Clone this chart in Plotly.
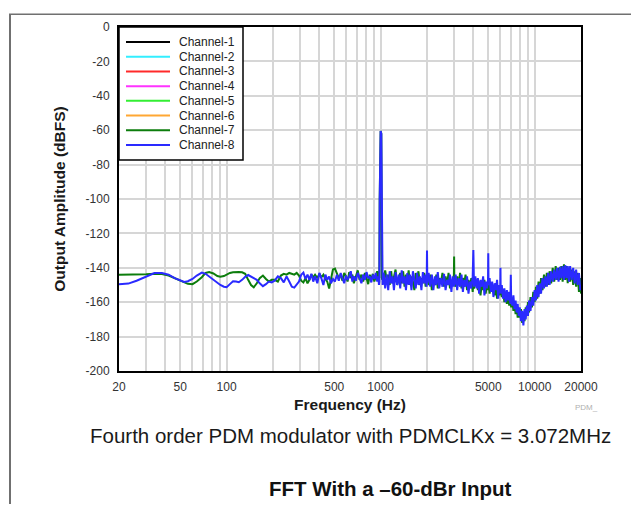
import math
import plotly.graph_objects as go

# ---------------- data ----------------
# Frequency axis (Hz), split in bands
freq_low = [20, 23, 26, 30, 34, 38, 42, 46, 50, 53, 56, 60, 64, 69, 73, 77, 82, 87, 91, 96,
            100, 105, 110, 115, 120, 126, 132, 138, 144, 150, 157, 164, 172, 180, 188, 196]
ch7_low = [-144, -144, -144, -143.8, -143.5, -143.6, -144.5, -146, -147.5, -148.5, -149.3, -149.5,
           -148, -145.5, -143, -142.5, -143.3, -144.8, -145.2, -144.8, -143.8, -143, -142.6, -142.4,
           -142.4, -142.6, -143.5, -147, -150, -151.3, -149, -146, -144.5, -146.5, -148, -147]
ch8_low = [-149.5, -149.2, -147.5, -145, -143, -143, -144, -146, -147.5, -148.2, -147.8, -146.5,
           -144.5, -142.8, -143.5, -145, -147, -148.8, -150, -151, -151.3, -149.5, -147.8, -148,
           -148.4, -147, -145.2, -144.2, -145, -146, -147, -149, -150.7, -149.5, -148, -148.5]

freq_mid = [205, 215, 225, 235, 245, 255, 265, 275, 285, 295, 305, 315, 325, 335, 345, 355, 365,
            375, 388, 400, 412, 425, 438, 450, 463, 476, 490, 505, 520, 535, 550, 565, 580, 595,
            610, 625, 640, 655, 670, 690, 710, 730, 750, 770, 790, 810, 830, 850, 870, 890, 910,
            930, 950, 965, 975]
ch7_mid = [-147, -148, -144.5, -143.5, -144, -143, -143.5, -144, -143, -144.5, -147.5, -148.5, -146,
           -149, -147, -144, -145.5, -144, -146, -143.5, -145.5, -144, -146.5, -148, -152, -147,
           -141, -140.5, -143, -146, -144, -147.5, -143, -145, -148, -142.5, -146, -144, -149, -145,
           -141.5, -147, -144, -148, -143, -146, -149.5, -144, -147, -143.5, -148, -145, -142, -147,
           -145]
ch8_mid = [-147.5, -145, -146, -148.5, -145, -148, -151, -151.5, -150, -148, -144, -142.8, -146.5,
           -144, -147, -143.5, -148, -145, -149, -143, -146, -150, -144, -147, -145, -149, -146.5,
           -148, -144, -147.5, -143, -146, -149, -144.5, -147, -145, -142, -148, -145, -147.5, -143,
           -146, -149, -144, -147, -142.5, -146, -145, -148.5, -144, -146.5, -143, -148, -145, -150]

freq_tone = [981, 986, 991, 1000, 1010, 1015, 1021]
ch7_tone = [-146, -100, -62, -60.5, -62, -100, -147]
ch8_tone = [-148, -100, -62, -60.5, -62, -100, -146]

freq_b1 = [1030, 1045, 1070, 1095, 1120, 1145, 1170, 1195, 1220, 1250, 1280, 1310, 1340, 1370,
           1400, 1430, 1460, 1490, 1520, 1550, 1585, 1620, 1655, 1690, 1725, 1760, 1800, 1840,
           1880, 1920, 1960, 1990, 2000]
ch7_b1 = [-143, -148, -141.5, -147, -144, -150, -142, -149, -145, -141, -150, -146, -143, -149,
          -142, -151, -144, -148, -141.5, -150, -145, -148, -153, -143, -147, -142, -150, -146,
          -149, -143, -151, -146, -147]
ch8_b1 = [-150, -143, -152, -144, -153, -142, -149, -145, -153, -142.5, -150, -144, -152, -141.5,
          -149, -145, -153, -143, -150, -144, -153, -142, -148, -152, -143, -150, -145, -153,
          -142.5, -149, -144, -151, -130]

freq_b2 = [2010, 2050, 2100, 2150, 2200, 2250, 2300, 2350, 2400, 2460, 2520, 2580, 2640, 2700,
           2760, 2820, 2880, 2940, 2990, 3000, 3010, 3070, 3140, 3210, 3280, 3350, 3420, 3490,
           3560, 3640, 3720, 3800, 3880, 3960, 4000, 4040]
ch7_b2 = [-145, -150, -144, -153, -147, -150, -144, -152, -146, -149, -143, -151, -145, -150, -143,
          -152, -147, -150, -144, -133.5, -148, -151, -145, -150, -143, -152, -146, -149, -144,
          -153, -147, -151, -146, -154, -148, -152]
ch8_b2 = [-149, -143, -151, -144, -153, -145, -150, -142.5, -152, -146, -151, -143.5, -153, -147,
          -150, -144, -154, -145, -151, -147, -150, -144, -153, -146, -151, -144, -154, -147, -151,
          -145, -155, -148, -152, -145, -129.7, -151]

freq_b3 = [4120, 4200, 4280, 4360, 4450, 4540, 4630, 4720, 4810, 4900, 4980, 5000, 5020, 5100,
           5200, 5300, 5400, 5500, 5600, 5700, 5800, 5900, 5980, 6000, 6020, 6120, 6240, 6360,
           6480, 6600, 6720, 6840, 6960, 7000, 7040, 7160, 7280, 7400, 7520, 7640, 7760, 7880]
ch7_b3 = [-150, -147, -153, -148, -156, -149, -153, -147, -155, -149, -153, -150, -147, -155, -149,
          -153, -150, -156, -150, -158, -152, -156, -151, -154, -152, -157, -153, -160, -155, -161,
          -156, -162, -157, -160, -163, -158, -165, -160, -167, -162, -169, -164]
ch8_b3 = [-145, -152, -146, -155, -147, -151, -145, -156, -148, -152, -147, -131.6, -150, -146,
          -154, -148, -157, -149, -153, -147, -158, -150, -154, -140, -155, -150, -158, -152, -160,
          -153, -159, -154, -161, -144, -158, -162, -156, -164, -159, -166, -161, -168]

freq_b4 = [8000, 8150, 8300, 8450, 8600, 8750, 8900, 9050, 9200, 9400, 9600, 9800, 10000, 10200,
           10400, 10600, 10800, 11000, 11250, 11500, 11750, 12000, 12250, 12500, 12800, 13100,
           13400, 13700, 14000, 14300, 14600, 14900, 15200, 15500, 15800, 16100, 16400, 16700,
           17000, 17400, 17800, 18200, 18600, 19000, 19400, 19800, 20000]
ch7_b4 = [-169, -164, -172, -166, -171, -163, -168, -160, -166, -157, -163, -154, -160, -151, -158,
          -148, -155, -146, -153, -144, -151, -143, -150, -142, -149, -140, -148, -139, -147, -140,
          -147, -139, -148, -138, -147, -139, -149, -140, -148, -141, -150, -142, -151, -143, -154,
          -146, -155]
ch8_b4 = [-163, -171, -165, -173.5, -164, -170, -162, -168, -159, -165, -157, -162, -153, -159,
          -150, -157, -149, -155, -146, -152, -145, -151, -143, -150, -142, -148, -141, -147, -140,
          -148, -139.5, -146, -139, -147, -138.5, -146, -139, -148, -139, -147, -140, -149, -141,
          -150, -143, -153, -150]

channel_names = ["Channel-1", "Channel-2", "Channel-3", "Channel-4",
                 "Channel-5", "Channel-6", "Channel-7", "Channel-8"]
channel_colors = ["#000000", "#33eeff", "#ff2a2a", "#ff33ff",
                  "#33ee33", "#ffa733", "#0c7d0c", "#2a2aff"]

x_tick_vals = [20, 50, 100, 500, 1000, 5000, 10000, 20000]
x_tick_text = ["20", "50", "100", "500", "1000", "5000", "10000", "20000"]
x_minor_grid = [30, 40, 60, 70, 80, 90, 200, 300, 400, 600, 700, 800, 900,
                2000, 3000, 4000, 6000, 7000, 8000, 9000]
y_tick_vals = [0, -20, -40, -60, -80, -100, -120, -140, -160, -180, -200]
y_tick_text = ["0", "-20", "-40", "-60", "-80", "-100", "-120", "-140", "-160", "-180", "-200"]

# ---------------- assemble series ----------------
freq = freq_low + freq_mid + freq_tone + freq_b1 + freq_b2 + freq_b3 + freq_b4
ch7 = ch7_low + ch7_mid + ch7_tone + ch7_b1 + ch7_b2 + ch7_b3 + ch7_b4
ch8 = ch8_low + ch8_mid + ch8_tone + ch8_b1 + ch8_b2 + ch8_b3 + ch8_b4
n = min(len(freq), len(ch7), len(ch8))

FONT = "Liberation Sans, Arial, Helvetica, sans-serif"

fig = go.Figure()
fig.add_trace(go.Scatter(x=freq[:n], y=ch7[:n], mode="lines", name="Channel-7",
                         line=dict(color=channel_colors[6], width=2), showlegend=False))
fig.add_trace(go.Scatter(x=freq[:n], y=ch8[:n], mode="lines", name="Channel-8",
                         line=dict(color=channel_colors[7], width=2), showlegend=False))

# the page body has an 8 px margin: figure sits at (8, 8) in the window
FIG_W, FIG_H = 631, 498
OFF = 8
GRID = "#d6d6d6"
fig.update_layout(
    width=FIG_W, height=FIG_H,
    margin=dict(l=119 - OFF, r=FIG_W - (581 - OFF), t=22 - OFF, b=FIG_H - (371 - OFF)),
    paper_bgcolor="white", plot_bgcolor="white",
    font=dict(family=FONT, color="#222222", size=12),
    showlegend=False,
    xaxis=dict(
        type="log", range=[math.log10(20), math.log10(20000)],
        tickmode="array", tickvals=x_tick_vals, ticktext=x_tick_text,
        tickfont=dict(size=12, color="#333333"),
        ticks="outside", ticklen=4, tickcolor="rgba(0,0,0,0)",
        showgrid=True, gridcolor=GRID, gridwidth=1.5,
        minor=dict(tickmode="array", tickvals=x_minor_grid, showgrid=True,
                   gridcolor=GRID, gridwidth=1.5, ticks=""),
        showline=True, linecolor="black", linewidth=2, mirror=True,
        title=dict(text="Frequency (Hz)", standoff=6,
                   font=dict(size=15.5, weight="bold", color="#1a1a1a")),
        zeroline=False,
    ),
    yaxis=dict(
        range=[-200, 0], tickmode="array", tickvals=y_tick_vals, ticktext=y_tick_text,
        tickfont=dict(size=12, color="#333333"),
        ticks="outside", ticklen=5, tickcolor="rgba(0,0,0,0)",
        showgrid=True, gridcolor=GRID, gridwidth=1.5,
        showline=True, linecolor="black", linewidth=2, mirror=True,
        title=dict(text="Output Amplitude (dBFS)", standoff=16,
                   font=dict(size=15.5, weight="bold", color="#1a1a1a")),
        zeroline=False,
    ),
)

# ---------------- legend (drawn inside the plot, top-left) ----------------
W, H = 462.0, 349.0  # plot area size in px


def px_x(px):
    return (px - 119) / W


def px_y(py):
    return (371 - py) / H


shapes = [dict(type="rect", xref="paper", yref="paper", layer="above",
               x0=0, x1=px_x(243), y0=px_y(157), y1=1,
               line=dict(color="black", width=1.5), fillcolor="white")]
annotations = []
for i, (name, col) in enumerate(zip(channel_names, channel_colors)):
    yy = px_y(37.3 + 14.9 * i)
    shapes.append(dict(type="line", xref="paper", yref="paper", layer="above",
                       x0=px_x(126), x1=px_x(170), y0=yy, y1=yy,
                       line=dict(color=col, width=2)))
    annotations.append(dict(xref="paper", yref="paper", x=px_x(177), y=yy,
                            text=name, showarrow=False, xanchor="left", yanchor="middle",
                            font=dict(size=12, color="#222222", family=FONT)))

# document frame lines (left and top)
shapes.append(dict(type="line", xref="paper", yref="paper", layer="above",
                   x0=px_x(10), x1=px_x(10), y0=px_y(9), y1=px_y(506),
                   line=dict(color="#707070", width=2)))
shapes.append(dict(type="line", xref="paper", yref="paper", layer="above",
                   x0=px_x(9), x1=px_x(639), y0=px_y(9), y1=px_y(9),
                   line=dict(color="#707070", width=1.5)))

annotations += [
    dict(xref="paper", yref="paper", x=px_x(586), y=px_y(408), text="PDM_",
         showarrow=False, xanchor="center", yanchor="middle",
         font=dict(size=8, color="#b0b0b0", family=FONT)),
    dict(xref="paper", yref="paper", x=px_x(350), y=px_y(436),
         text="Fourth order PDM modulator with PDMCLKx = 3.072MHz",
         showarrow=False, xanchor="center", yanchor="middle",
         font=dict(size=20.5, color="#1a1a1a", family=FONT)),
    dict(xref="paper", yref="paper", x=px_x(390), y=px_y(490),
         text="FFT With a \u201360-dBr Input",
         showarrow=False, xanchor="center", yanchor="middle",
         font=dict(size=20.5, color="#111111", family=FONT, weight="bold")),
]

fig.update_layout(shapes=shapes, annotations=annotations)
fig.write_html("out.html")
